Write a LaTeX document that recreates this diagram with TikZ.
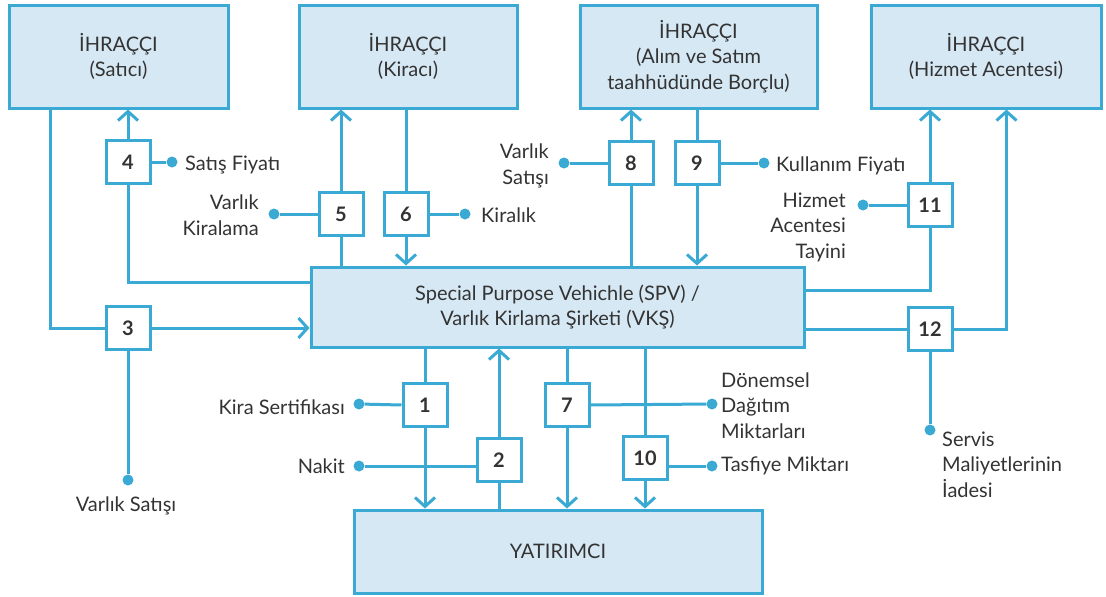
\documentclass[tikz,border=0pt]{standalone}
\usepackage{fontspec}
\setmainfont{Lato}
\usetikzlibrary{arrows.meta,calc}
\definecolor{ln}{HTML}{3AAAD4}
\definecolor{bx}{HTML}{D6E8F4}
\definecolor{tx}{HTML}{333333}
\begin{document}
\begin{tikzpicture}[x=1pt,y=-1pt,
  big/.style={draw=ln,fill=bx,line width=3pt,font=\fontsize{20}{25.5}\selectfont,text=tx,align=center,inner sep=0pt},
  num/.style={draw=ln,fill=white,line width=3pt,minimum width=44pt,minimum height=43pt,inner sep=0pt,font=\fontsize{20}{22}\selectfont\bfseries,text=tx},
  lbl/.style={font=\fontsize{20}{25.5}\selectfont,text=tx,inner sep=0pt},
  dotn/.style={circle,fill=ln,inner sep=0pt,minimum size=11pt},
  con/.style={draw=ln,line width=3pt},
  arr/.style={con,-{Straight Barb[length=9pt,width=20pt,line width=3pt]}}]
\useasboundingbox (0,0) rectangle (1106,597);
% big boxes
\node[big,minimum width=219pt,minimum height=103pt] (sat) at (118.5,56.5) {İHRAÇÇI\\(Satıcı)};
\node[big,minimum width=218pt,minimum height=103pt] (kir) at (408,56.5) {İHRAÇÇI\\(Kiracı)};
\node[big,minimum width=237pt,minimum height=103pt] (bor) at (698.5,56.5) {İHRAÇÇI\\(Alım ve Satım\\taahhüdünde Borçlu)};
\node[big,minimum width=230pt,minimum height=103pt] (hiz) at (986,56.5) {İHRAÇÇI\\(Hizmet Acentesi)};
\node[big,minimum width=493pt,minimum height=80pt] (spv) at (557.5,307) {Special Purpose Vehichle (SPV) /\\Varlık Kirlama Şirketi (VKŞ)};
\node[big,minimum width=408pt,minimum height=83pt] (yat) at (558,551.5) {YATIRIMCI};
% number boxes
\node[num] (b1) at (425,405) {1};
\node[num] (b2) at (499,460) {2};
\node[num] (b3) at (128,328) {3};
\node[num] (b4) at (128,162) {4};
\node[num] (b5) at (341,214) {5};
\node[num] (b6) at (406,214) {6};
\node[num] (b7) at (567,405) {7};
\node[num] (b8) at (631,163) {8};
\node[num] (b9) at (697,163) {9};
\node[num] (b10) at (645,458) {10};
\node[num] (b11) at (930,205) {11};
\node[num] (b12) at (930,329) {12};
% dots
\node[dotn] (d1) at (359,404) {};
\node[dotn] (d2) at (359,466) {};
\node[dotn] (d3) at (128,480) {};
\node[dotn] (d4) at (172,162) {};
\node[dotn] (d5) at (274,214) {};
\node[dotn] (d6) at (465,214) {};
\node[dotn] (d7) at (712,404) {};
\node[dotn] (d8) at (564,163) {};
\node[dotn] (d9) at (764,163) {};
\node[dotn] (d10) at (712,466) {};
\node[dotn] (d11) at (863,205) {};
\node[dotn] (d12) at (930,430) {};
% labels
\node[lbl,anchor=base west] (t4) at (185,170) {Satış Fiyatı};
\node[lbl,anchor=base east,align=right] (t5) at (259,235) {Varlık\\Kiralama};
\node[lbl,anchor=base west] (t6) at (481,222) {Kiralık};
\node[lbl,anchor=base east,align=right] (t8) at (549,184) {Varlık\\Satışı};
\node[lbl,anchor=base west] (t9) at (776,171) {Kullanım Fiyatı};
\node[lbl,anchor=base east,align=right] (t11) at (846,258) {Hizmet\\Acentesi\\Tayini};
\node[lbl,anchor=base east] (t1) at (345,414) {Kira Sertifikası};
\node[lbl,anchor=base east] (t2) at (345,473) {Nakit};
\node[lbl,anchor=base] (t3) at (126,511) {Varlık Satışı};
\node[lbl,anchor=base west,align=left] (t7) at (721,438) {Dönemsel\\Dağıtım\\Miktarları};
\node[lbl,anchor=base west] (t10) at (721,471) {Tasfiye Miktarı};
\node[lbl,anchor=base west,align=left] (t12) at (942,497) {Servis\\Maliyetlerinin\\İadesi};
% connectors
\draw[con] ([xshift=43pt]sat.south west) |- (b3.west);
\draw[arr] (b3.east) -- (spv.west |- b3.east);
\draw[con] (b3.south) -- (d3);
\draw[arr] (b4.north) -- (sat.south -| b4);
\draw[con] (b4.south) |- ([yshift=-17pt]spv.north west);
\draw[con] (b4.east) -- (d4);
\draw[con] (spv.north -| b5) -- (b5.south);
\draw[arr] (b5.north) -- (kir.south -| b5);
\draw[con] (d5) -- (b5.west);
\draw[con] (kir.south -| b6) -- (b6.north);
\draw[arr] (b6.south) -- (spv.north -| b6);
\draw[con] (b6.east) -- (d6);
\draw[con] (spv.north -| b8) -- (b8.south);
\draw[arr] (b8.north) -- (bor.south -| b8);
\draw[con] (d8) -- (b8.west);
\draw[con] (bor.south -| b9) -- (b9.north);
\draw[arr] (b9.south) -- (spv.north -| b9);
\draw[con] (b9.east) -- (d9);
\draw[con] ([yshift=-25pt]spv.north east) -| (b11.south);
\draw[arr] (b11.north) -- (hiz.south -| b11);
\draw[con] (d11) -- (b11.west);
\draw[con] (spv.east |- b12.west) -- (b12.west);
\draw[arr] (b12.east) -| ([xshift=137pt]hiz.south west);
\draw[con] (b12.south) -- (d12);
\draw[con] (spv.south -| b1) -- (b1.north);
\draw[arr] (b1.south) -- (yat.north -| b1);
\draw[con] (d1) -- (b1.west);
\draw[con] (d2) -- (d2 -| b2.west);
\draw[con] (yat.north -| b2) -- (b2.south);
\draw[arr] (b2.north) -- (spv.south -| b2);
\draw[con] (spv.south -| b7) -- (b7.north);
\draw[arr] (b7.south) -- (yat.north -| b7);
\draw[con] (b7.east) -- (d7);
\draw[con] (spv.south -| b10) -- (b10.north);
\draw[arr] (b10.south) -- (yat.north -| b10);
\draw[con] (d10) -- (d10 -| b10.east);
\end{tikzpicture}
\end{document}
